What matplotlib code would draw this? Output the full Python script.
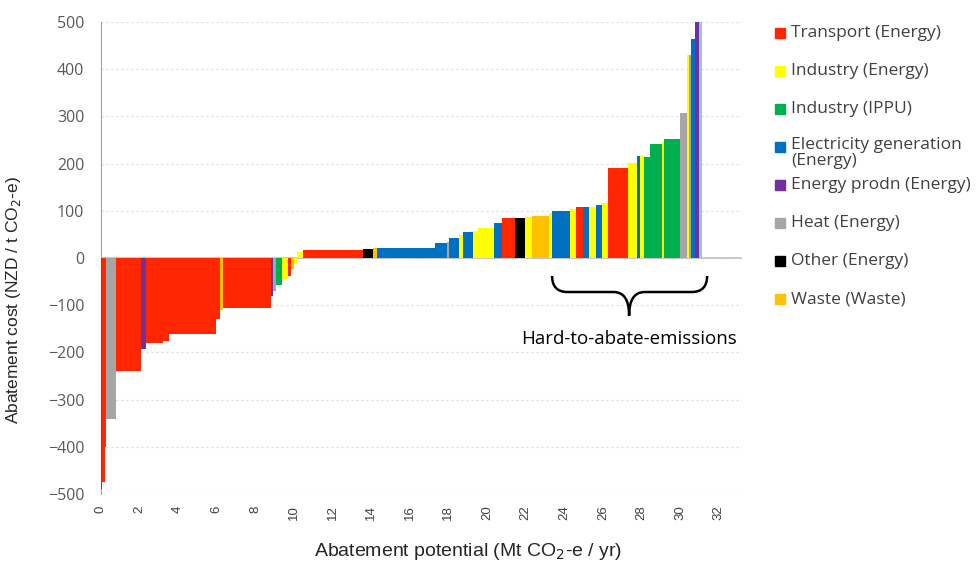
import numpy as np
import matplotlib
matplotlib.use("Agg")
import matplotlib.pyplot as plt
from matplotlib.path import Path
from matplotlib.patches import PathPatch, Rectangle

# Sector legend
sector_keys = ["T", "IE", "IP", "EG", "EP", "H", "O", "W"]
sector_labels = ["Transport (Energy)", "Industry (Energy)", "Industry (IPPU)",
                 "Electricity generation\n(Energy)", "Energy prodn (Energy)",
                 "Heat (Energy)", "Other (Energy)", "Waste (Waste)"]
sector_colors = {"T": "#FF2600", "IE": "#FFFF00", "IP": "#00B050", "EG": "#0070C0",
                 "EP": "#7030A0", "H": "#A6A6A6", "O": "#000000", "W": "#FFC000",
                 "X": "#9DC3E6"}

# Abatement measures, in merit order (width = Mt CO2-e/yr, cost = NZD/t)
measure_sector = ["EG", "T", "T", "H", "T", "EP", "T", "T", "T", "T", "W", "T",
                  "EP", "H", "IP", "IE", "T", "W", "IE", "IE", "T", "O", "W", "EG",
                  "EG", "H", "EG", "IE", "EG", "IE", "IE", "EG", "T", "O", "IE", "W",
                  "IE", "EG", "IE", "T", "EG", "IE", "EG", "IE", "T", "IE", "EG", "IE",
                  "IP", "IP", "IE", "IP", "H", "IE", "H", "EG", "EP", "X"]
measure_width = [0.08, 0.13, 0.05, 0.54, 1.30, 0.26, 0.88, 0.26, 2.44, 0.21, 0.16, 2.49,
                 0.13, 0.13, 0.31, 0.31, 0.16, 0.16, 0.16, 0.30, 3.12, 0.50, 0.21, 3.02,
                 0.61, 0.12, 0.52, 0.21, 0.52, 0.26, 0.83, 0.41, 0.67, 0.52, 0.36, 0.88,
                 0.16, 0.93, 0.31, 0.36, 0.31, 0.36, 0.31, 0.31, 1.04, 0.47, 0.16, 0.21,
                 0.31, 0.61, 0.12, 0.78, 0.40, 0.08, 0.12, 0.19, 0.21, 0.18]
measure_cost = [-490, -475, -400, -340, -239, -193, -180, -175, -161, -129, -110, -106,
                -80, -70, -57, -44, -38, -23, -13, 12, 17, 19, 21, 22,
                31, 33, 43, 48, 56, 58, 64, 74, 84, 84, 87, 89,
                96, 99, 103, 108, 109, 109, 112, 116, 190, 201, 216, 216,
                215, 241, 245, 252, 308, 431, 431, 463, 520, 520]

y_ticks = np.arange(-500, 501, 100)
x_ticks = np.arange(0, 33, 2)

widths = np.array(measure_width)
lefts = np.concatenate([[0], np.cumsum(widths)[:-1]])
colors = [sector_colors[s] for s in measure_sector]

fig = plt.figure(figsize=(9.8, 5.64), dpi=100)
ax = fig.add_axes([0.103, 0.124, 0.654, 0.837])

ax.bar(lefts, measure_cost, width=widths, align="edge", color=colors,
       linewidth=0, zorder=3)
ax.axhline(0, color="#BFBFBF", linewidth=1.2, zorder=2)

ax.set_xlim(0, 33.2)
ax.set_ylim(-500, 500)
ax.set_yticks(y_ticks)
ax.set_xticks(x_ticks)
ax.grid(axis="y", linestyle=(0, (1.5, 2.5)), color="#D9D9D9", linewidth=0.9, zorder=0)
for side in ["top", "right", "bottom"]:
    ax.spines[side].set_visible(False)
ax.spines["left"].set_color("#A0A0A0")
ax.tick_params(axis="y", length=0, pad=12, labelsize=11.5, labelcolor="#595959")
ax.tick_params(axis="x", length=0, pad=8, labelsize=9.5, labelcolor="#404040",
               labelrotation=90)
for lab in ax.get_yticklabels():
    lab.set_family("Open Sans")
for lab in ax.get_xticklabels():
    lab.set_family("Liberation Sans")

ax.set_ylabel("Abatement cost (NZD / t CO$_2$-e)", fontsize=12.5, family="Liberation Sans",
              color="#262626")
ax.yaxis.set_label_coords(-0.122, 0.41)
ax.set_xlabel("Abatement potential (Mt CO$_2$-e / yr)", fontsize=14,
              family="Liberation Sans", color="#262626")
ax.xaxis.set_label_coords(0.573, -0.1)

# Brace over the hard-to-abate measures
xl, xm, xr = 23.37, 27.36, 31.40
y_top, y_mid, y_tip = -38, -72, -122
r = 0.8
verts = [(xl, y_top), (xl, y_mid), (xl + r, y_mid), (xm - r, y_mid), (xm, y_mid),
         (xm, y_tip), (xm, y_mid), (xm + r, y_mid), (xr - r, y_mid), (xr, y_mid),
         (xr, y_top)]
codes = [Path.MOVETO, Path.CURVE3, Path.CURVE3, Path.LINETO, Path.CURVE3, Path.CURVE3,
         Path.CURVE3, Path.CURVE3, Path.LINETO, Path.CURVE3, Path.CURVE3]
ax.add_patch(PathPatch(Path(verts, codes), fill=False, linewidth=1.8, color="black",
                       zorder=4, clip_on=False))
ax.text(xm, -171, "Hard-to-abate-emissions", ha="center", va="center",
        fontsize=13.5, family="Open Sans", color="black")

# Legend drawn at the right
for i, (key, label) in enumerate(zip(sector_keys, sector_labels)):
    yf = 1 - (33 + 38 * i) / 564
    fig.patches.append(Rectangle((775 / 980, yf - 5 / 564), 10 / 980, 10 / 564,
                                 transform=fig.transFigure, color=sector_colors[key]))
    if "\n" in label:
        fig.text(791 / 980, yf + 10 / 564, label, ha="left", va="top",
                 fontsize=12.5, family="Open Sans", color="#404040", linespacing=1.0)
    else:
        fig.text(791 / 980, yf, label, ha="left", va="center",
                 fontsize=12.5, family="Open Sans", color="#404040")

fig.savefig("out.png", dpi=100)
